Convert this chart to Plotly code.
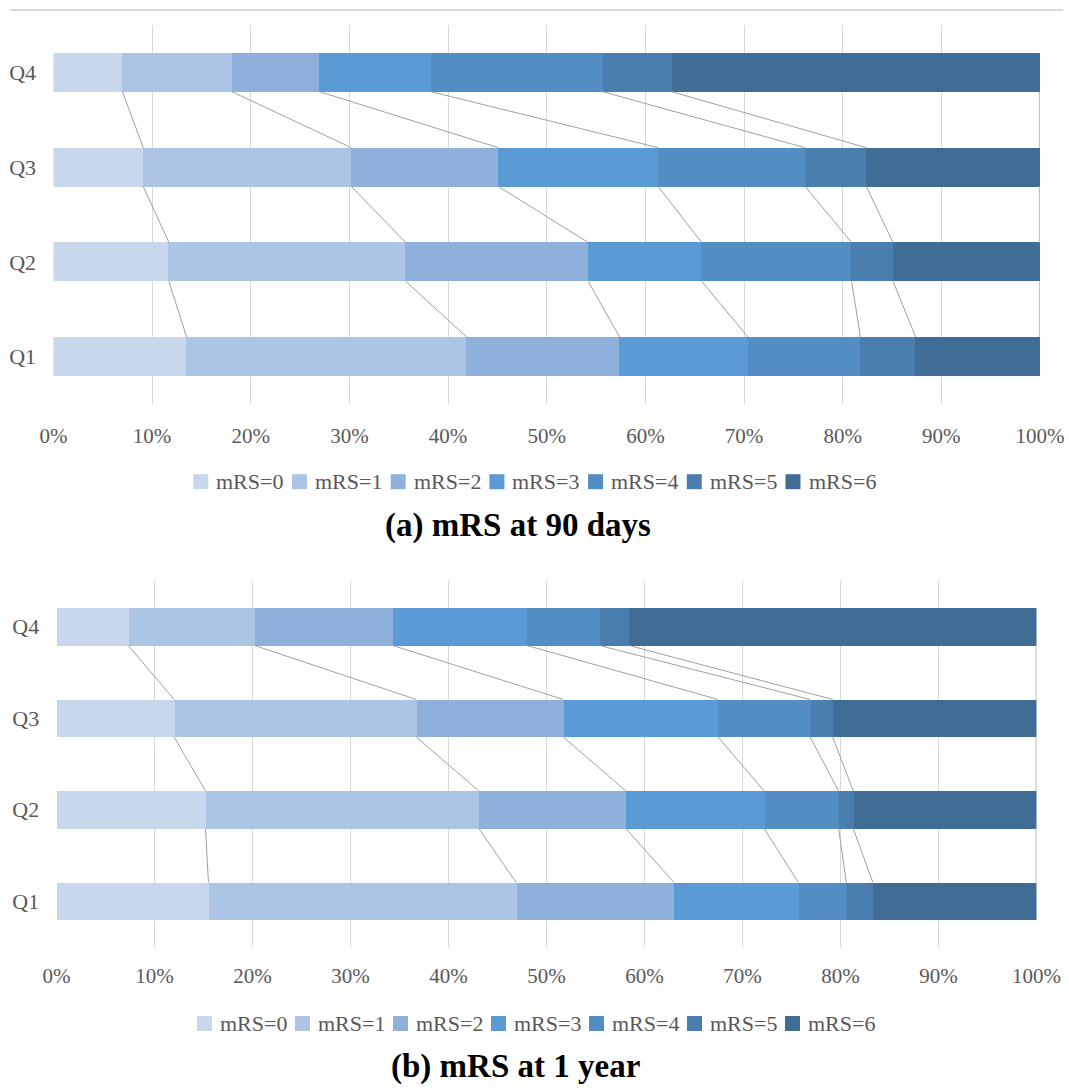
import numpy as np
import plotly.graph_objects as go

# Quartile groups (bottom to top) and outcome levels
categories = ["Q1", "Q2", "Q3", "Q4"]
levels = ["mRS=0", "mRS=1", "mRS=2", "mRS=3", "mRS=4", "mRS=5", "mRS=6"]
colors = ["#C8D7EC", "#ADC5E4", "#8EB1DB", "#5B9BD5", "#528EC3", "#4A7EAF", "#3F6D96"]

# Percentage of patients at each mRS level, 90 days
day90_q1 = [13.5, 28.4, 15.5, 13.0, 11.4, 5.6, 12.6]
day90_q2 = [11.7, 24.0, 18.5, 11.5, 15.2, 4.2, 14.9]
day90_q3 = [9.1, 21.1, 14.9, 16.2, 14.9, 6.2, 17.6]
day90_q4 = [7.0, 11.1, 8.9, 11.3, 17.4, 7.0, 37.3]

# Percentage of patients at each mRS level, 1 year
year1_q1 = [15.5, 31.4, 16.1, 12.7, 4.9, 2.7, 16.7]
year1_q2 = [15.2, 27.9, 15.0, 14.1, 7.6, 1.5, 18.7]
year1_q3 = [12.0, 24.7, 15.0, 15.8, 9.4, 2.3, 20.8]
year1_q4 = [7.3, 12.9, 14.1, 13.7, 7.4, 3.0, 41.6]

tick_vals = list(range(0, 101, 10))
tick_text = [f"{v}%" for v in tick_vals]

W, H = 1069, 1091
SERIF = "Liberation Serif"
GREY_TEXT = "#595959"
BAR_W = 0.41

fig = go.Figure()
shapes = []
annotations = []


def add_panel(rows, xaxis, yaxis):
    data = np.array(rows)  # shape (4 groups, 7 levels)
    ypos = np.arange(len(categories))
    for j, name in enumerate(levels):
        fig.add_trace(go.Bar(
            x=data[:, j], y=ypos, orientation="h", name=name,
            marker=dict(color=colors[j], line=dict(width=0)),
            width=BAR_W, xaxis=xaxis, yaxis=yaxis, showlegend=False,
            hovertemplate="%{x:.1f}%<extra>" + name + "</extra>",
        ))
    # series lines joining each cumulative boundary between neighbouring bars
    cum = np.cumsum(data, axis=1)
    inner_x, inner_y, end_x, end_y = [], [], [], []
    for i in range(len(categories) - 1, 0, -1):
        for k in range(len(levels)):
            xs = [cum[i, k], cum[i - 1, k], None]
            ys = [ypos[i] - BAR_W / 2, ypos[i - 1] + BAR_W / 2, None]
            if k == len(levels) - 1:
                end_x += xs
                end_y += ys
            else:
                inner_x += xs
                inner_y += ys
    fig.add_trace(go.Scatter(
        x=inner_x, y=inner_y, mode="lines", line=dict(color="#A0A0A0", width=1),
        showlegend=False, hoverinfo="skip", xaxis=xaxis, yaxis=yaxis,
    ))
    fig.add_trace(go.Scatter(
        x=end_x, y=end_y, mode="lines", line=dict(color="#BDBDBD", width=2),
        showlegend=False, hoverinfo="skip", xaxis=xaxis, yaxis=yaxis,
    ))


def add_key(left_px, pitch_px, y_px):
    """Horizontal colour key: small square swatch followed by the level name."""
    for j, name in enumerate(levels):
        x0 = left_px + j * pitch_px
        shapes.append(dict(
            type="rect", xref="paper", yref="paper",
            x0=x0 / W, x1=(x0 + 15) / W,
            y0=1 - (y_px + 7.5) / H, y1=1 - (y_px - 7.5) / H,
            fillcolor=colors[j], line=dict(width=0),
        ))
        annotations.append(dict(
            text=name, x=(x0 + 21) / W, y=1 - y_px / H, xref="paper", yref="paper",
            xanchor="left", yanchor="middle", showarrow=False,
            font=dict(family=SERIF, size=22, color=GREY_TEXT),
        ))


add_panel([day90_q1, day90_q2, day90_q3, day90_q4], "x", "y")
add_panel([year1_q1, year1_q2, year1_q3, year1_q4], "x2", "y2")
add_key(193.3, 98.7, 481.7)
add_key(197.0, 98.0, 1023.5)


def xaxis_style(ticklen):
    return dict(
        range=[0, 100], tickvals=tick_vals, ticktext=tick_text,
        showgrid=True, gridcolor="#D9D9D9", gridwidth=1, zeroline=False,
        showline=False, ticks="outside", ticklen=ticklen, tickcolor="rgba(0,0,0,0)",
        tickfont=dict(family=SERIF, size=21, color=GREY_TEXT),
        automargin=False, fixedrange=True,
    )


yaxis_style = dict(
    range=[-0.5, 3.5], tickvals=list(range(4)), ticktext=categories,
    showgrid=False, zeroline=False, showline=False,
    ticks="outside", ticklen=12, tickcolor="rgba(0,0,0,0)",
    tickfont=dict(family=SERIF, size=22, color=GREY_TEXT),
    automargin=False, fixedrange=True,
)

annotations += [
    dict(text="<b>(a) mRS at 90 days</b>", x=518 / W, y=1 - 526 / H, xref="paper", yref="paper",
         xanchor="center", yanchor="middle", showarrow=False,
         font=dict(family=SERIF, size=33, color="black")),
    dict(text="<b>(b) mRS at 1 year</b>", x=515 / W, y=1 - 1066 / H, xref="paper", yref="paper",
         xanchor="center", yanchor="middle", showarrow=False,
         font=dict(family=SERIF, size=33, color="black")),
]
shapes.append(dict(
    type="line", xref="paper", yref="paper", x0=10 / W, x1=1063 / W,
    y0=1 - 10 / H, y1=1 - 10 / H, line=dict(color="#D9D9D9", width=2),
))

fig.update_layout(
    width=W, height=H,
    margin=dict(l=0, r=0, t=0, b=0),
    paper_bgcolor="white", plot_bgcolor="white",
    barmode="stack", bargap=0, showlegend=False,
    xaxis=dict(domain=[0.0500, 0.9729], anchor="y", **xaxis_style(13)),
    yaxis=dict(domain=[0.6297, 0.9771], anchor="x", **yaxis_style),
    xaxis2=dict(domain=[0.0529, 0.9696], anchor="y2", **xaxis_style(10)),
    yaxis2=dict(domain=[0.1320, 0.4675], anchor="x2", **yaxis_style),
    annotations=annotations,
    shapes=shapes,
)

fig.write_html("out.html")
